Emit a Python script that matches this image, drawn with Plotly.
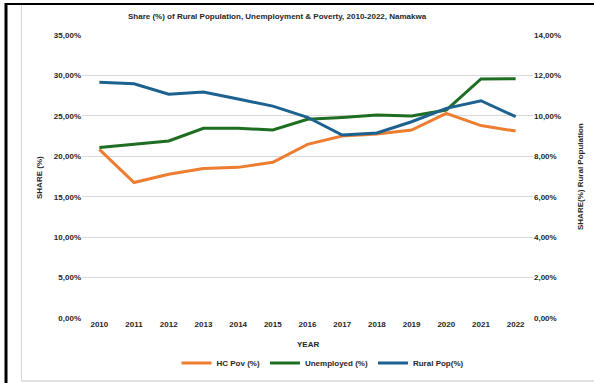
import plotly.graph_objects as go

# Namakwa district series, 2010-2022
years = ["2010", "2011", "2012", "2013", "2014", "2015", "2016",
         "2017", "2018", "2019", "2020", "2021", "2022"]
hc_pov = [20.86, 16.75, 17.77, 18.5, 18.63, 19.25, 21.48,
          22.5, 22.76, 23.25, 25.3, 23.8, 23.12]
unemployed = [21.1, 21.52, 21.89, 23.46, 23.46, 23.25, 24.57,
              24.8, 25.1, 24.98, 25.72, 29.56, 29.58]
rural_pop = [11.66, 11.59, 11.07, 11.18, 10.83, 10.48, 9.93,
             9.05, 9.15, 9.71, 10.37, 10.75, 9.96]

left_ticks = [0, 5, 10, 15, 20, 25, 30, 35]
right_ticks = [0, 2, 4, 6, 8, 10, 12, 14]


def pct_label(v):
    return f"{v:.2f}%".replace(".", ",")


W, H = 594, 383
L, R, T, B = 82, 533, 35, 318   # plot-area edges in pixels


def px(x):
    return (x - L) / (R - L)


def py(y):
    return (B - y) / (B - T)


FONT = "Liberation Sans, Arial, sans-serif"
TXT = "#262626"

fig = go.Figure()
fig.add_trace(go.Scatter(x=years, y=hc_pov, name="HC Pov (%)", mode="lines",
                         line=dict(color="#ED7D31", width=3)))
fig.add_trace(go.Scatter(x=years, y=unemployed, name="Unemployed (%)", mode="lines",
                         line=dict(color="#1E6E22", width=3)))
fig.add_trace(go.Scatter(x=years, y=rural_pop, name="Rural Pop(%)", mode="lines",
                         line=dict(color="#1C6190", width=3), yaxis="y2"))

fig.update_layout(
    width=W, height=H,
    margin=dict(l=L, r=W - R, t=T, b=H - B, autoexpand=False),
    paper_bgcolor="white", plot_bgcolor="white",
    font=dict(family=FONT, size=8, color=TXT, weight="bold"),
    showlegend=True,
    legend=dict(orientation="h", x=px(323), xanchor="center", y=py(363), yanchor="middle",
                font=dict(size=8, color=TXT), itemwidth=30, tracegroupgap=0),
    xaxis=dict(type="category", range=[-0.5, 12.5], showgrid=False, showline=False,
               ticks="", tickfont=dict(size=8, color=TXT)),
    yaxis=dict(range=[0, 35], tickvals=left_ticks,
               ticktext=[pct_label(v) for v in left_ticks],
               showgrid=True, gridcolor="#D9D9D9", gridwidth=1, zeroline=False,
               showline=False, ticks="", tickfont=dict(size=8, color=TXT)),
    yaxis2=dict(range=[0, 14], tickvals=right_ticks,
                ticktext=[pct_label(v) for v in right_ticks],
                overlaying="y", side="right", showgrid=False, zeroline=False,
                showline=False, ticks="", tickfont=dict(size=8, color=TXT)),
    annotations=[
        dict(text="Share (%) of Rural Population, Unemployment & Poverty, 2010-2022, Namakwa",
             xref="paper", yref="paper", x=px(277), y=py(17), xanchor="center",
             yanchor="middle", showarrow=False, font=dict(size=8, color=TXT)),
        dict(text="SHARE (%)", xref="paper", yref="paper", x=px(39), y=py(178),
             textangle=-90, showarrow=False, xanchor="center", yanchor="middle",
             font=dict(size=8, color=TXT)),
        dict(text="SHARE(%) Rural Population", xref="paper", yref="paper", x=px(580),
             y=py(177), textangle=-90, showarrow=False, xanchor="center",
             yanchor="middle", font=dict(size=8, color=TXT)),
        dict(text="YEAR", xref="paper", yref="paper", x=px(308), y=py(344),
             showarrow=False, xanchor="center", yanchor="middle",
             font=dict(size=8, color=TXT)),
    ],
    shapes=[
        # outer frame
        dict(type="line", xref="paper", yref="paper", x0=px(5), x1=px(600),
             y0=py(4), y1=py(4), line=dict(color="black", width=2)),
        dict(type="line", xref="paper", yref="paper", x0=px(6), x1=px(6),
             y0=py(3), y1=py(390), line=dict(color="black", width=3)),
        # chart-area border
        dict(type="line", xref="paper", yref="paper", x0=px(21.5), x1=px(21.5),
             y0=py(5), y1=py(381), line=dict(color="#D9D9D9", width=1)),
        dict(type="line", xref="paper", yref="paper", x0=px(21), x1=px(600),
             y0=py(381), y1=py(381), line=dict(color="#D9D9D9", width=1.5)),
    ],
)

fig.write_html("out.html")
